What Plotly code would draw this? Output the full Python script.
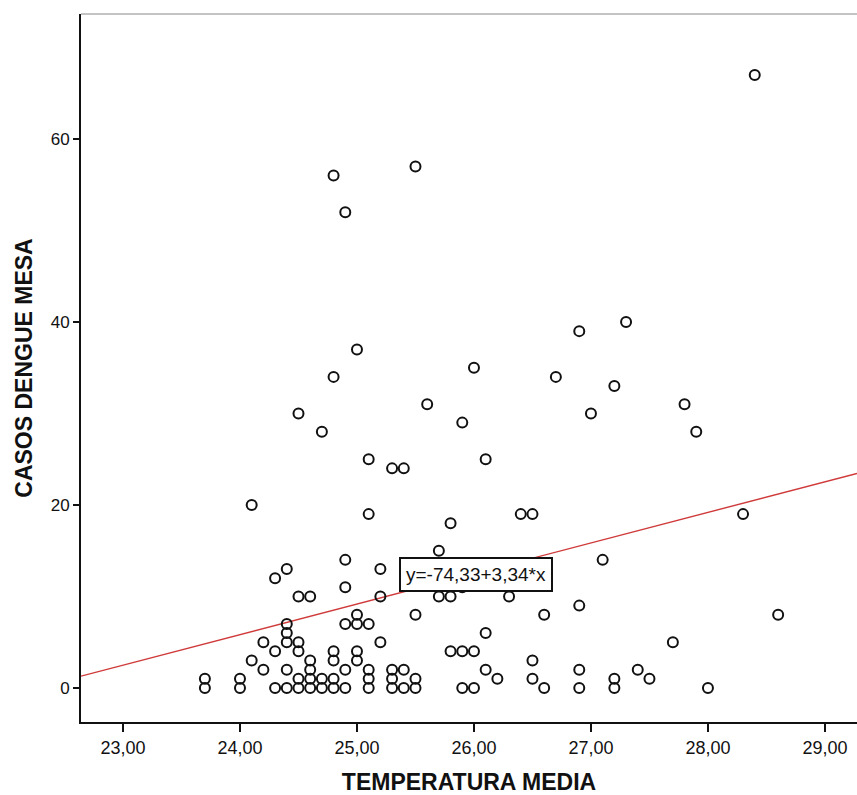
import plotly.graph_objects as go

# Data (TEMPERATURA MEDIA vs CASOS DENGUE MESA)
temp_values = [
    23.7, 23.7,
    24.0, 24.0,
    24.1, 24.1,
    24.2, 24.2,
    24.3, 24.3, 24.3,
    24.4, 24.4, 24.4, 24.4, 24.4, 24.4,
    24.5, 24.5, 24.5, 24.5, 24.5, 24.5,
    24.6, 24.6, 24.6, 24.6, 24.6,
    24.7, 24.7, 24.7,
    24.8, 24.8, 24.8, 24.8, 24.8, 24.8,
    24.9, 24.9, 24.9, 24.9, 24.9, 24.9,
    25.0, 25.0, 25.0, 25.0, 25.0,
    25.1, 25.1, 25.1, 25.1, 25.1, 25.1,
    25.2, 25.2, 25.2,
    25.3, 25.3, 25.3, 25.3,
    25.4, 25.4, 25.4,
    25.5, 25.5, 25.5, 25.5,
    25.6,
    25.7, 25.7,
    25.8, 25.8, 25.8,
    25.9, 25.9, 25.9, 25.9,
    26.0, 26.0, 26.0,
    26.1, 26.1, 26.1,
    26.2,
    26.3,
    26.4,
    26.5, 26.5, 26.5,
    26.6, 26.6,
    26.7,
    26.9, 26.9, 26.9, 26.9,
    27.0,
    27.1,
    27.2, 27.2, 27.2,
    27.3,
    27.4,
    27.5,
    27.7,
    27.8,
    27.9,
    28.0,
    28.3,
    28.4,
    28.6,
]
cases_values = [
    1, 0,
    1, 0,
    20, 3,
    5, 2,
    12, 4, 0,
    13, 7, 6, 5, 2, 0,
    30, 10, 5, 4, 1, 0,
    10, 3, 2, 1, 0,
    28, 1, 0,
    56, 34, 4, 3, 1, 0,
    52, 14, 11, 7, 2, 0,
    37, 8, 7, 4, 3,
    25, 19, 7, 2, 1, 0,
    13, 10, 5,
    24, 2, 1, 0,
    24, 2, 0,
    57, 8, 1, 0,
    31,
    15, 10,
    18, 10, 4,
    29, 11, 4, 0,
    35, 4, 0,
    25, 6, 2,
    1,
    10,
    19,
    19, 3, 1,
    8, 0,
    34,
    39, 9, 2, 0,
    30,
    14,
    33, 1, 0,
    40,
    2,
    1,
    5,
    31,
    28,
    0,
    19,
    67,
    8,
]

fit_intercept = -74.33
fit_slope = 3.34
fit_label = "y=-74,33+3,34*x"

x_ticks = [23, 24, 25, 26, 27, 28, 29]
y_ticks = [0, 20, 40, 60]

x_range = [22.641, 29.274]
y_range = [-3.72, 73.66]

fit_x = list(x_range)
fit_y = [fit_intercept + fit_slope * v for v in fit_x]

FONT = "Liberation Sans, Arial, sans-serif"

fig = go.Figure()

fig.add_trace(go.Scatter(
    x=fit_x, y=fit_y, mode="lines",
    line=dict(color="#d03a3a", width=1.4),
    hoverinfo="skip", showlegend=False,
))

fig.add_trace(go.Scatter(
    x=temp_values, y=cases_values, mode="markers",
    marker=dict(symbol="circle-open", size=10, color="#111111",
                line=dict(width=2, color="#111111")),
    showlegend=False,
))

fig.add_annotation(
    x=26.02, y=12.35, xref="x", yref="y",
    text=fit_label, showarrow=False,
    font=dict(family=FONT, size=19, color="#111111"),
    bgcolor="white", bordercolor="#111111", borderwidth=2, borderpad=5,
)

# top border of the frame
fig.add_shape(type="line", xref="paper", yref="paper", x0=0, x1=1, y0=1, y1=1,
              line=dict(color="#888888", width=1))

fig.update_layout(
    width=857, height=795,
    margin=dict(l=81, r=0, t=14, b=73),
    paper_bgcolor="white", plot_bgcolor="white",
    separators=",.",
    font=dict(family=FONT, color="#111111"),
    xaxis=dict(
        range=x_range, tickvals=x_ticks, tickformat=".2f",
        showgrid=False, zeroline=False,
        showline=True, linecolor="#111111", linewidth=2,
        ticks="outside", ticklen=8, tickwidth=2, tickcolor="#111111",
        tickfont=dict(family=FONT, size=18, color="#111111"),
        title=dict(text="<b>TEMPERATURA MEDIA</b>", standoff=18,
                   font=dict(family=FONT, size=23, color="#111111")),
    ),
    yaxis=dict(
        range=y_range, tickvals=y_ticks,
        showgrid=False, zeroline=False,
        showline=True, linecolor="#111111", linewidth=2,
        ticks="outside", ticklen=6, tickwidth=2, tickcolor="#111111",
        tickfont=dict(family=FONT, size=17, color="#111111"),
        title=dict(text="<b>CASOS DENGUE MESA</b>", standoff=12,
                   font=dict(family=FONT, size=23, color="#111111")),
    ),
)

fig.write_html("out.html")
